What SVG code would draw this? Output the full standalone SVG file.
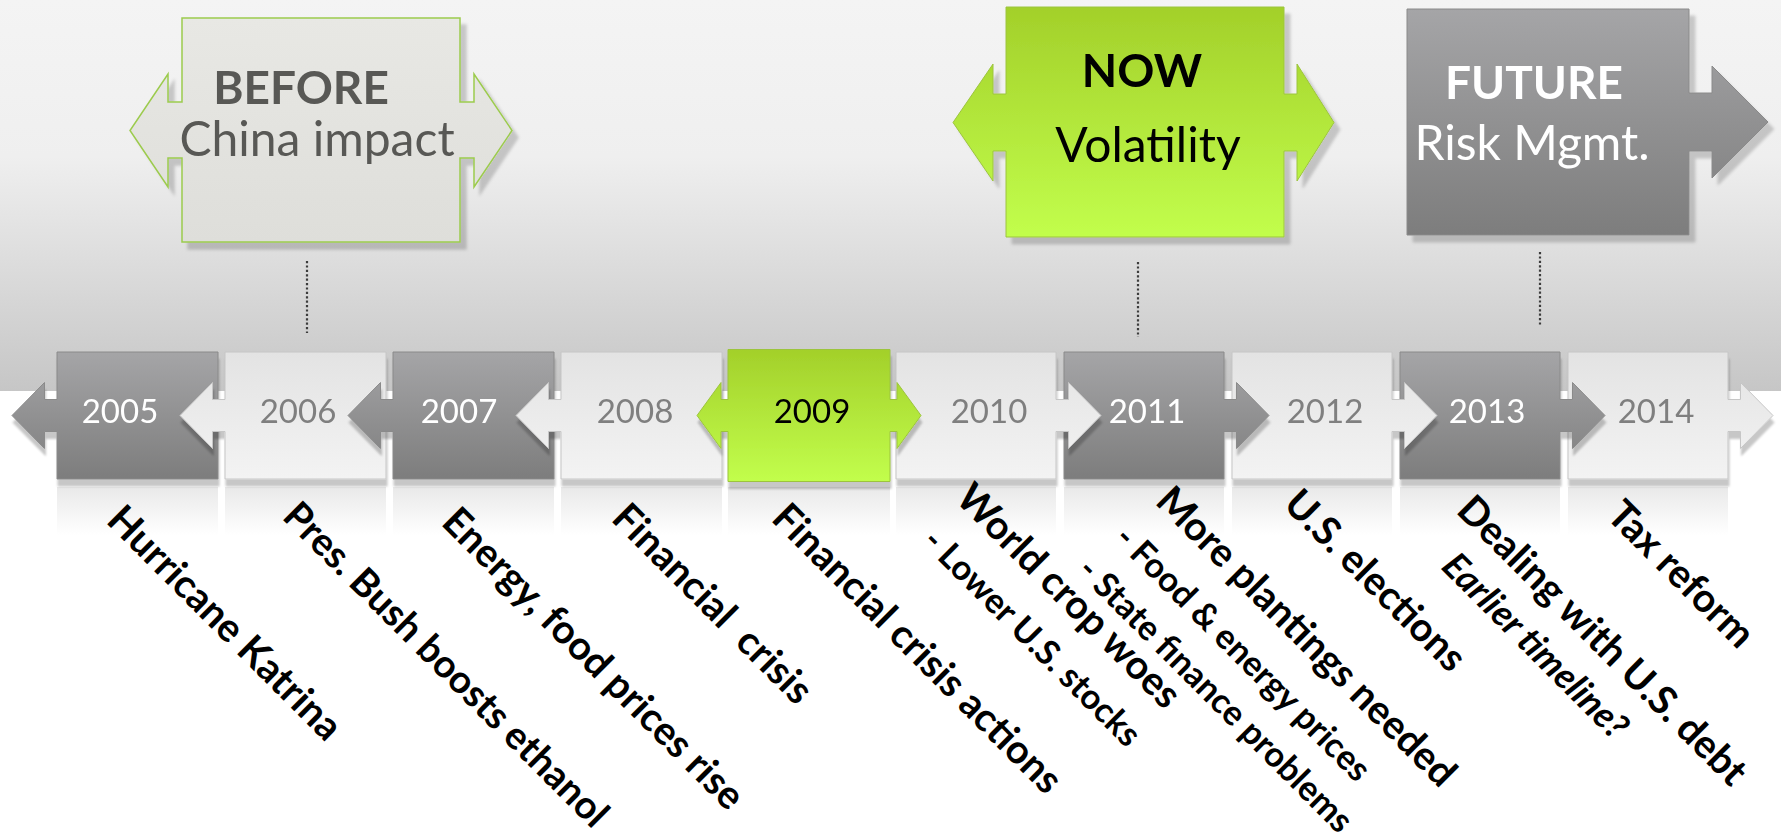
<svg xmlns="http://www.w3.org/2000/svg" width="1781" height="840" viewBox="0 0 1781 840">
<defs>
<style>
.yr{font-family:Lato,"Liberation Sans",sans-serif;font-size:33px;text-anchor:middle}
.big{font-family:Lato,"Liberation Sans",sans-serif;font-size:46px;text-anchor:middle}
.reg{font-size:48px}
.b{font-weight:bold}
.lbl{font-family:Lato,"Liberation Sans",sans-serif;font-size:39.5px;font-weight:bold;fill:#000;white-space:pre}
.sub{font-size:34.5px}
.it{font-style:italic;font-size:36.5px}
.dk{fill:url(#dark);stroke:#8a8a8a;stroke-width:1}
.lt{fill:url(#light);stroke:#c6c6c6;stroke-width:1}
.gr{fill:url(#green);stroke:#9cc43e;stroke-width:1}
.dot{stroke:#3c3c3c;stroke-width:2.2;stroke-dasharray:2.2 2.2;fill:none}
.refl{fill:url(#refl)}
</style>
<linearGradient id="bg" x1="0" y1="0" x2="0" y2="1">
<stop offset="0" stop-color="#f4f4f4"/><stop offset="0.4" stop-color="#efefef"/><stop offset="1" stop-color="#c6c6c6"/>
</linearGradient>
<linearGradient id="dark" x1="0" y1="0" x2="0" y2="1"><stop offset="0" stop-color="#a5a5a7"/><stop offset="1" stop-color="#7d7d7d"/></linearGradient>
<linearGradient id="light" x1="0" y1="0" x2="0" y2="1"><stop offset="0" stop-color="#e3e3e3"/><stop offset="1" stop-color="#f3f3f3"/></linearGradient>
<linearGradient id="green" x1="0" y1="0" x2="0" y2="1"><stop offset="0" stop-color="#a3d02a"/><stop offset="1" stop-color="#c2fe4c"/></linearGradient>
<linearGradient id="beige" x1="0" y1="0" x2="0" y2="1"><stop offset="0" stop-color="#e8e8e4"/><stop offset="1" stop-color="#dededa"/></linearGradient>
<linearGradient id="refl" x1="0" y1="0" x2="0" y2="1"><stop offset="0" stop-color="#e9e9e9"/><stop offset="1" stop-color="#ffffff"/></linearGradient>
<filter id="sh" x="-10%" y="-10%" width="130%" height="130%"><feDropShadow dx="1" dy="7" stdDeviation="0.8" flood-color="#000" flood-opacity="0.22"/></filter>
<filter id="shb" x="-10%" y="-10%" width="130%" height="130%"><feDropShadow dx="6" dy="7" stdDeviation="1.5" flood-color="#000" flood-opacity="0.18"/></filter>
</defs>

<rect x="0" y="0" width="1781" height="840" fill="#ffffff"/>
<rect x="0" y="0" width="1781" height="391" fill="url(#bg)"/>

<g id="reflections">
<rect class="refl" x="57" y="487" width="161" height="48"/>
<rect class="refl" x="225" y="487" width="161" height="48"/>
<rect class="refl" x="393" y="487" width="161" height="48"/>
<rect class="refl" x="561" y="487" width="161" height="48"/>
<rect class="refl" x="728" y="487" width="162" height="48"/>
<rect class="refl" x="896" y="487" width="160" height="48"/>
<rect class="refl" x="1064" y="487" width="160" height="48"/>
<rect class="refl" x="1232" y="487" width="160" height="48"/>
<rect class="refl" x="1400" y="487" width="160" height="48"/>
<rect class="refl" x="1568" y="487" width="160" height="48"/>
</g>

<g id="connectors">
<line class="dot" x1="307" y1="261" x2="307" y2="333"/>
<line class="dot" x1="1138" y1="262" x2="1138" y2="337"/>
<line class="dot" x1="1540" y1="252" x2="1540" y2="325"/>
</g>

<g id="before" filter="url(#shb)">
<path d="M182,18 H460 V102 H474 V74 L512,130.5 L474,187 V158 H460 V242 H182 V158 H168 V187 L130,130.5 L168,74 V102 H182 Z" fill="url(#beige)" stroke="#9ccb4d" stroke-width="1.5"/>
<text class="big b" x="301" y="104" fill="#595955">BEFORE</text>
<text class="big reg" x="317" y="156" fill="#595955">China impact</text>
</g>

<g id="now" filter="url(#shb)">
<path d="M1006,7 H1284 V94 H1297 V64 L1334,122.5 L1297,181 V151 H1284 V237 H1006 V151 H993 V181 L953,122.5 L993,64 V94 H1006 Z" fill="url(#green)" stroke="#9cc43e" stroke-width="1"/>
<text class="big b" x="1142" y="87" fill="#000">NOW</text>
<text class="big reg" x="1148" y="162" fill="#000">Volatility</text>
</g>

<g id="future" filter="url(#shb)">
<path d="M1407,9 H1689 V93 H1712 V66 L1768,122 L1712,178 V151 H1689 V235 H1407 Z" fill="url(#dark)" stroke="#8a8a8a" stroke-width="1"/>
<text class="big b" x="1534" y="99" fill="#fff">FUTURE</text>
<text class="big reg" x="1532" y="160" fill="#fff">Risk Mgmt.</text>
</g>

<g id="y2005" filter="url(#sh)">
<path class="dk" d="M57,352 H218 V479 H57 V431.5 H44.5 V448.5 L12,415.5 L44.5,382.5 V399.5 H57 Z"/>
<text class="yr" x="120" y="423" fill="#fff">2005</text>
</g>
<g id="y2006" filter="url(#sh)">
<path class="lt" d="M225,352 H386 V479 H225 V431.5 H212.5 V448.5 L180,415.5 L212.5,382.5 V399.5 H225 Z"/>
<text class="yr" x="298" y="423" fill="#7f7f7f">2006</text>
</g>
<g id="y2007" filter="url(#sh)">
<path class="dk" d="M393,352 H554 V479 H393 V431.5 H380.5 V448.5 L348,415.5 L380.5,382.5 V399.5 H393 Z"/>
<text class="yr" x="459" y="423" fill="#fff">2007</text>
</g>
<g id="y2008" filter="url(#sh)">
<path class="lt" d="M561,352 H722 V479 H561 V431.5 H548.5 V448.5 L516,415.5 L548.5,382.5 V399.5 H561 Z"/>
<text class="yr" x="635" y="423" fill="#7f7f7f">2008</text>
</g>
<g id="y2014" filter="url(#sh)">
<path class="lt" d="M1568,352 H1728 V399.5 H1740.5 V382.5 L1773,415.5 L1740.5,448.5 V431.5 H1728 V479 H1568 Z"/>
<text class="yr" x="1656" y="423" fill="#7f7f7f">2014</text>
</g>
<g id="y2013" filter="url(#sh)">
<path class="dk" d="M1400,352 H1560 V399.5 H1572.5 V382.5 L1605,415.5 L1572.5,448.5 V431.5 H1560 V479 H1400 Z"/>
<text class="yr" x="1487" y="423" fill="#fff">2013</text>
</g>
<g id="y2012" filter="url(#sh)">
<path class="lt" d="M1232,352 H1392 V399.5 H1404.5 V382.5 L1437,415.5 L1404.5,448.5 V431.5 H1392 V479 H1232 Z"/>
<text class="yr" x="1325" y="423" fill="#7f7f7f">2012</text>
</g>
<g id="y2011" filter="url(#sh)">
<path class="dk" d="M1064,352 H1224 V399.5 H1236.5 V382.5 L1269,415.5 L1236.5,448.5 V431.5 H1224 V479 H1064 Z"/>
<text class="yr" x="1147" y="423" fill="#fff">2011</text>
</g>
<g id="y2010" filter="url(#sh)">
<path class="lt" d="M896,352 H1056 V399.5 H1068.5 V382.5 L1101,415.5 L1068.5,448.5 V431.5 H1056 V479 H896 Z"/>
<text class="yr" x="989" y="423" fill="#7f7f7f">2010</text>
</g>
<g id="y2009" filter="url(#sh)">
<path class="gr" d="M728,349.5 H890 V399.5 H897 V382.5 L921,415.5 L897,448.5 V431.5 H890 V481.5 H728 V431.5 H721 V448.5 L697,415.5 L721,382.5 V399.5 H728 Z"/>
<text class="yr" x="812" y="423" fill="#000">2009</text>
</g>

<g id="labels">
<text class="lbl" transform="translate(105,522) rotate(45)">Hurricane Katrina</text>
<text class="lbl" style="font-size:38.5px" transform="translate(281,518) rotate(45)">Pres. Bush boosts ethanol</text>
<text class="lbl" transform="translate(440,524) rotate(45)">Energy, food prices rise</text>
<text class="lbl" transform="translate(610,520) rotate(45)">Financial  crisis</text>
<text class="lbl" transform="translate(770,520) rotate(45)">Financial crisis actions</text>
<text class="lbl" transform="translate(954,500) rotate(45)">World crop woes</text>
<text class="lbl sub" transform="translate(921,543) rotate(45)">- Lower U.S. stocks</text>
<text class="lbl" transform="translate(1154,503) rotate(45)">More plantings needed</text>
<text class="lbl sub" transform="translate(1113,540) rotate(45)">- Food &amp; energy prices</text>
<text class="lbl sub" transform="translate(1076,572) rotate(45)">- State finance problems</text>
<text class="lbl" transform="translate(1282,506) rotate(45)">U.S. elections</text>
<text class="lbl" transform="translate(1455,512) rotate(45)">Dealing with U.S. debt</text>
<text class="lbl it" transform="translate(1440,568) rotate(45)">Earlier timeline?</text>
<text class="lbl" transform="translate(1605,517) rotate(45)">Tax reform</text>
</g>
</svg>
